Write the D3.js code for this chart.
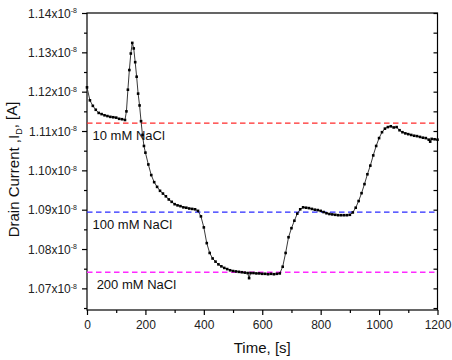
<!DOCTYPE html>
<html><head><meta charset="utf-8">
<script src="https://cdn.jsdelivr.net/npm/d3@7"></script>
<style>body{margin:0;background:#fff}svg{display:block;font-family:"Liberation Sans",Arial,sans-serif}</style>
</head><body><svg id="c" width="452" height="360"></svg>
<script>
// Time (s)
const times = [0,10,20,30,40,50,60,70,80,90,100,110,120,130,135,140,145,150,155,160,165,170,175,180,185,190,195,200,
210,220,230,240,250,260,270,280,290,300,310,320,330,340,350,360,370,380,390,400,410,420,430,440,450,460,470,480,490,
500,510,520,530,540,550,555,560,570,580,590,600,610,620,630,640,650,660,670,680,690,700,710,720,730,740,750,760,770,
780,790,800,810,820,830,840,850,860,870,880,890,900,910,920,930,940,950,960,970,980,990,1000,1010,1020,1030,1040,1050,
1060,1070,1080,1090,1100,1110,1120,1130,1140,1150,1160,1170,1175,1180,1190,1200];
// Drain current (x10^-8 A)
const current = [1.1211,1.1178,1.1164,1.1154,1.1146,1.1143,1.1140,1.1138,1.1136,1.1135,1.1134,1.1131,1.1130,1.1128,1.1150,
1.1205,1.1255,1.1297,1.1324,1.1310,1.1275,1.1238,1.1195,1.1165,1.1125,1.1090,1.1062,1.1045,
1.1015,1.0988,1.0970,1.0958,1.0948,1.0941,1.0934,1.0926,1.0920,1.0914,1.0911,1.0909,1.0906,1.0905,1.0903,1.0902,1.0901,
1.0897,1.0883,1.0855,1.0815,1.0790,1.0776,1.0768,1.0761,1.0756,1.0752,1.0749,1.0746,
1.0744,1.0743,1.0742,1.0741,1.0740,1.0739,1.0726,1.0739,1.0739,1.0738,1.0738,1.0737,1.0737,1.0736,1.0737,1.0736,1.0737,
1.0738,1.0755,1.0790,1.0830,1.0853,1.0872,1.0890,1.0901,1.0906,1.0905,1.0904,1.0902,
1.0900,1.0899,1.0897,1.0894,1.0891,1.0889,1.0888,1.0887,1.0886,1.0886,1.0886,1.0886,1.0887,1.0893,1.0905,1.0922,1.0942,
1.0965,1.0990,1.1012,1.1038,1.1062,1.1082,1.1097,1.1106,1.1110,1.1112,1.1109,
1.1110,1.1102,1.1097,1.1094,1.1092,1.1090,1.1088,1.1087,1.1085,1.1083,1.1082,1.1078,1.1073,1.1080,1.1079,1.1078];
// Reference levels
const refLabels = ["10 mM NaCl","100 mM NaCl","200 mM NaCl"];
const refValues = [1.1120,1.0894,1.0741];
const refColors = ["#ff2a2a","#2a2aff","#ff2aff"];
const xTicks = [0,200,400,600,800,1000,1200];
const yTicks = [1.07,1.08,1.09,1.10,1.11,1.12,1.13,1.14];

const W=452,H=360,m={l:87,r:14.5,t:13,b:50};
const svg=d3.select("#c");
const x=d3.scaleLinear().domain([0,1200]).range([m.l,W-m.r]);
const y=d3.scaleLinear().domain([1.0645,1.14]).range([H-m.b,m.t]);
const pw=W-m.r-m.l, ph=H-m.b-m.t;

// frame
svg.append("rect").attr("x",m.l).attr("y",m.t).attr("width",pw).attr("height",ph)
  .attr("fill","none").attr("stroke","#000").attr("stroke-width",1.2);

// bottom axis
const xMinor=d3.range(100,1200,200);
const xa=svg.append("g").attr("transform",`translate(0,${H-m.b})`)
  .call(d3.axisBottom(x).tickValues(xTicks).tickSize(5).tickSizeOuter(0).tickFormat(d3.format("d")));
xa.select(".domain").remove();
xa.selectAll("line").attr("stroke","#000").attr("stroke-width",1.2);
xa.selectAll("text").attr("font-size",12).attr("fill","#222").attr("dy","0.9em")
  .attr("font-family","Liberation Sans, Arial, sans-serif");
const xm=svg.append("g").attr("transform",`translate(0,${H-m.b})`)
  .call(d3.axisBottom(x).tickValues(xMinor).tickSize(3).tickFormat(""));
xm.select(".domain").remove();
xm.selectAll("line").attr("stroke","#000").attr("stroke-width",1.2);

// left axis
const yMinor=[1.065,1.075,1.085,1.095,1.105,1.115,1.125,1.135];
const ya=svg.append("g").attr("transform",`translate(${m.l},0)`)
  .call(d3.axisLeft(y).tickValues(yTicks).tickSize(5).tickSizeOuter(0).tickFormat(""));
ya.select(".domain").remove();
ya.selectAll("line").attr("stroke","#000").attr("stroke-width",1.2);
ya.selectAll(".tick").each(function(d){
  const t=d3.select(this).append("text").attr("x",-10).attr("dy","0.35em").attr("text-anchor","end")
    .attr("fill","#222").attr("font-size",12).attr("font-family","Liberation Sans, Arial, sans-serif");
  t.append("tspan").text(d3.format(".2f")(d)+"x10");
  t.append("tspan").attr("font-size",7).attr("dy","-0.65em").text("-8");
});
const ym=svg.append("g").attr("transform",`translate(${m.l},0)`)
  .call(d3.axisLeft(y).tickValues(yMinor).tickSize(3).tickFormat(""));
ym.select(".domain").remove();
ym.selectAll("line").attr("stroke","#000").attr("stroke-width",1.2);

// right axis (inward ticks)
const yr=svg.append("g").attr("transform",`translate(${W-m.r},0)`)
  .call(d3.axisLeft(y).tickValues(yTicks.concat(yMinor)).tickSize(4).tickFormat(""));
yr.select(".domain").remove();
yr.selectAll("line").attr("stroke","#000").attr("stroke-width",1.2);

// reference lines
refValues.forEach((v,i)=>{
  svg.append("line").attr("x1",x(0)).attr("x2",x(1200)).attr("y1",y(v)).attr("y2",y(v))
    .attr("stroke",refColors[i]).attr("stroke-width",1.3).attr("stroke-dasharray","5.5,3.5");
});
const labelX=[19,19,33];
refLabels.forEach((l,i)=>{
  svg.append("text").attr("x",x(labelX[i])).attr("y",y(refValues[i])+17).text(l)
    .attr("font-size",13).attr("fill","#111");
});

// data
const data=times.map((t,i)=>({t,v:current[i]}));
svg.append("path").datum(data).attr("fill","none").attr("stroke","#222").attr("stroke-width",0.9)
  .attr("d",d3.line().x(d=>x(d.t)).y(d=>y(d.v)));
svg.append("g").selectAll("rect").data(data).join("rect")
  .attr("x",d=>x(d.t)-1.3).attr("y",d=>y(d.v)-1.3).attr("width",2.6).attr("height",2.6).attr("fill","#000");

// axis titles
svg.append("text").attr("x",(m.l+W-m.r)/2).attr("y",353).attr("text-anchor","middle")
  .attr("font-size",15).attr("fill","#111").text("Time, [s]");
const yt=svg.append("text").attr("transform",`translate(19,${m.t+ph/2+8}) rotate(-90)`).attr("text-anchor","middle")
  .attr("font-size",15).attr("fill","#111");
yt.append("tspan").text("Drain Current ,I");
yt.append("tspan").attr("font-size",9).attr("dy","0.35em").text("D");
yt.append("tspan").attr("dy","-0.35em").text(", [A]");
</script></body></html>
